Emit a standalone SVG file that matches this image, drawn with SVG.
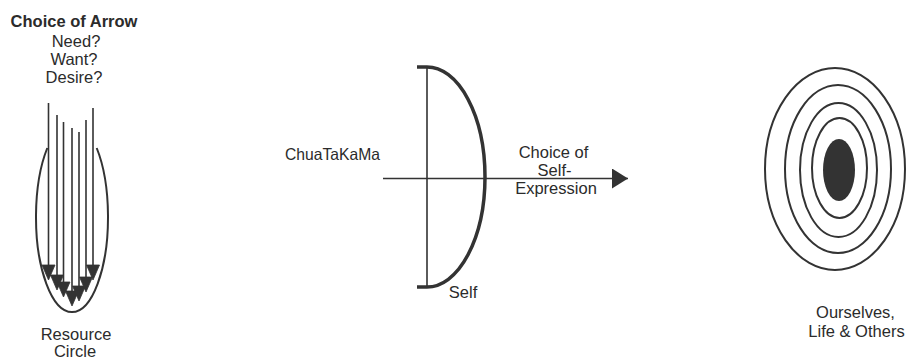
<svg xmlns="http://www.w3.org/2000/svg" width="906" height="360" viewBox="0 0 906 360">
<style>
text{font-family:"Liberation Sans",Arial,sans-serif;font-size:16.5px;fill:#2b2b2b;text-anchor:middle}
.b{font-weight:bold}
.l{text-anchor:start}
.thin{fill:none;stroke:#333;stroke-width:1.6}
.ring{fill:none;stroke:#333;stroke-width:2}
.thick{fill:none;stroke:#333;stroke-width:3.5}
.head{fill:#333;stroke:#333;stroke-width:0.8;stroke-linejoin:miter}
</style>
<defs>
<marker id="ah2" markerUnits="userSpaceOnUse" markerWidth="16" markerHeight="20" refX="16" refY="10" orient="auto" viewBox="0 0 16 20">
<path d="M0,0 L16,10 L0,20 z" fill="#333"/>
</marker>
</defs>
<g id="resource-circle">
<text class="b" x="74" y="27">Choice of Arrow</text>
<text x="76" y="47">Need?</text>
<text x="74" y="65">Want?</text>
<text x="74" y="83">Desire?</text>
<path class="ring" d="M96.7,148 A36,95 0 1 1 47.3,148" stroke-width="2.8"/>
<text x="76" y="340">Resource</text>
<text x="75" y="357">Circle</text>
</g>
<g id="self">
<path class="thin" d="M427,67 L427,287" stroke-width="2"/>
<path class="thick" d="M417,67 L427,67 A58,110 0 0 1 427,287 L417,287"/>
<text class="l" x="285" y="160" textLength="95" lengthAdjust="spacingAndGlyphs">ChuaTaKaMa</text>
<text x="463" y="298">Self</text>
</g>
<g id="target">
<ellipse class="ring" cx="835" cy="169" rx="70" ry="101"/>
<ellipse class="ring" cx="838" cy="169" rx="53" ry="84"/>
<ellipse class="ring" cx="838.5" cy="170" rx="38.5" ry="67"/>
<ellipse class="ring" cx="839.5" cy="168" rx="27.5" ry="50"/>
<ellipse cx="839" cy="170" rx="16" ry="31" fill="#333"/>
<text x="855.5" y="318">Ourselves,</text>
<text x="856.5" y="337">Life &amp; Others</text>
</g>
<g id="connectors">
<line class="thin" x1="48.5" y1="103" x2="48.5" y2="270"/>
<line class="thin" x1="57" y1="115" x2="57" y2="280"/>
<line class="thin" x1="63.5" y1="122" x2="63.5" y2="287"/>
<line class="thin" x1="72" y1="128" x2="72" y2="296"/>
<line class="thin" x1="79" y1="132" x2="79" y2="291"/>
<line class="thin" x1="86" y1="120" x2="86" y2="282"/>
<line class="thin" x1="93" y1="108" x2="93" y2="270"/>
<polygon class="head" points="42,265 55,265 48.5,280"/>
<polygon class="head" points="50.5,275 63.5,275 57,290"/>
<polygon class="head" points="57,282 70,282 63.5,297"/>
<polygon class="head" points="65.5,291 78.5,291 72,306"/>
<polygon class="head" points="72.5,286 85.5,286 79,301"/>
<polygon class="head" points="79.5,277 92.5,277 86,292"/>
<polygon class="head" points="86.5,265 99.5,265 93,280"/>
<line class="thin" x1="383" y1="178.5" x2="628" y2="178.5" marker-end="url(#ah2)"/>
<text x="553.5" y="158">Choice of</text>
<text x="554.5" y="176">Self-</text>
<text x="556" y="194">Expression</text>
</g>
</svg>
